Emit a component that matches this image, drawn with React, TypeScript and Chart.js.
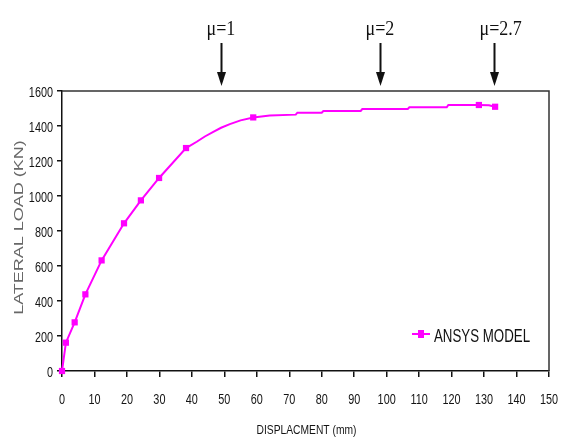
import React, { useEffect, useRef } from "react";
import { Chart, registerables } from "chart.js";

Chart.register(...registerables);

const curveDisplacement = [0, 1.2, 3.9, 7.2, 12.2, 19.1, 24.3, 29.9, 38.2, 41.5, 44, 46.6, 49, 51.7, 55, 58.9, 64, 72, 72.5, 80, 80.5, 92, 92.5, 106.5, 107, 118.5, 119, 128.4, 131.5, 133.4];
const curveLoad = [0, 162, 278, 438, 632, 844, 975, 1103, 1274, 1310, 1340, 1367, 1390, 1411, 1432, 1449, 1460, 1465, 1476, 1476, 1486, 1486, 1497, 1497, 1507, 1507, 1520, 1520, 1518, 1510];

// Marked points of the ANSYS model
const markerDisplacement = [0, 1.2, 3.9, 7.2, 12.2, 19.1, 24.3, 29.9, 38.2, 58.9, 128.4, 133.4];
const markerLoad = [0, 162, 278, 438, 632, 844, 975, 1103, 1274, 1449, 1520, 1510];

// Ductility annotations
const ductilityLabels = ["μ=1", "μ=2", "μ=2.7"];
const ductilityDisplacement = [49, 98, 133];

const seriesName = "ANSYS MODEL";
const xTitle = "DISPLACMENT (mm)";
const yTitle = "LATERAL LOAD (KN)";

const SANS = '"Liberation Sans", Arial, sans-serif';
const MAGENTA = "#ff00ff";
const INK = "#141414";

function condensedText(ctx: any, text: string, x: number, y: number, font: string, sx: number, align: string, color: string) {
  ctx.save();
  ctx.translate(x, y);
  ctx.scale(sx, 1);
  ctx.font = font;
  ctx.fillStyle = color;
  ctx.textAlign = align;
  ctx.textBaseline = "alphabetic";
  ctx.fillText(text, 0, 0);
  ctx.restore();
}

const decorPlugin = {
  id: "decor",
  afterDraw(chart: any) {
    const { ctx, chartArea: a, scales } = chart;
    const xs = scales.x;
    const ys = scales.y;
    ctx.save();
    // frame (top + right)
    ctx.strokeStyle = "#333";
    ctx.lineWidth = 1.5;
    ctx.beginPath();
    ctx.moveTo(a.left, a.top);
    ctx.lineTo(a.right, a.top);
    ctx.lineTo(a.right, a.bottom);
    ctx.stroke();

    // tick labels (condensed, from the library's scales)
    const tickFont = "15.5px " + SANS;
    xs.ticks.forEach((t: any) => {
      condensedText(ctx, String(t.value), xs.getPixelForValue(t.value), a.bottom + 33, tickFont, 0.7, "center", INK);
    });
    ys.ticks.forEach((t: any) => {
      condensedText(ctx, String(t.value), a.left - 9, ys.getPixelForValue(t.value) + 5.5, tickFont, 0.7, "right", INK);
    });

    // x title
    condensedText(ctx, xTitle, (a.left + a.right) / 2 + 1, a.bottom + 63, "13px " + SANS, 0.79, "center", INK);

    // ductility arrows
    ctx.fillStyle = "#111";
    ctx.strokeStyle = "#111";
    ductilityDisplacement.forEach((d, i) => {
      const px = Math.round(xs.getPixelForValue(d)) + 0.5;
      condensedText(ctx, ductilityLabels[i], px - 15, a.top - 56, '20px "Liberation Serif", "Times New Roman", serif', 0.9, "left", "#111");
      ctx.lineWidth = 2;
      ctx.beginPath();
      ctx.moveTo(px, a.top - 48);
      ctx.lineTo(px, a.top - 16);
      ctx.stroke();
      ctx.beginPath();
      ctx.moveTo(px - 4.5, a.top - 19);
      ctx.lineTo(px + 4.5, a.top - 19);
      ctx.lineTo(px, a.top - 5);
      ctx.closePath();
      ctx.fill();
    });

    // y title (condensed)
    ctx.save();
    ctx.translate(19, (a.top + a.bottom) / 2 - 3.5);
    ctx.rotate(-Math.PI / 2);
    ctx.scale(1, 0.75);
    ctx.font = "18px " + SANS;
    ctx.fillStyle = "#686868";
    ctx.textAlign = "center";
    ctx.textBaseline = "middle";
    ctx.fillText(yTitle, 0, 0);
    ctx.restore();

    // legend
    const ly = a.bottom - 37;
    const lx = a.right - 137;
    ctx.strokeStyle = MAGENTA;
    ctx.fillStyle = MAGENTA;
    ctx.lineWidth = 2;
    ctx.beginPath();
    ctx.moveTo(lx, ly);
    ctx.lineTo(lx + 18, ly);
    ctx.stroke();
    ctx.fillRect(lx + 6, ly - 4, 6, 8);
    condensedText(ctx, seriesName, lx + 22, ly + 8, "19px " + SANS, 0.7, "left", "#111");
    ctx.restore();
  },
};

export default function App() {
  const ref = useRef<HTMLCanvasElement | null>(null);
  useEffect(() => {
    if (!ref.current) return;
    const chart = new Chart(ref.current, {
      type: "line",
      data: {
        datasets: [
          {
            label: seriesName,
            data: curveDisplacement.map((x, i) => ({ x, y: curveLoad[i] })),
            borderColor: MAGENTA,
            backgroundColor: MAGENTA,
            borderWidth: 2,
            pointRadius: 0,
            tension: 0,
            clip: false as any,
          },
          {
            label: seriesName + " points",
            data: markerDisplacement.map((x, i) => ({ x, y: markerLoad[i] })),
            showLine: false,
            borderColor: MAGENTA,
            backgroundColor: MAGENTA,
            pointStyle: "rect",
            pointRadius: 4.4,
            pointBorderWidth: 0,
            clip: false as any,
          },
        ],
      },
      options: {
        animation: false,
        responsive: false,
        layout: { padding: { top: 91, right: 12, left: 0, bottom: 0 } },
        plugins: { legend: { display: false }, tooltip: { enabled: false } },
        scales: {
          x: {
            type: "linear",
            min: 0,
            max: 150,
            afterFit: (s: any) => {
              s.height = 66;
            },
            ticks: { stepSize: 10, display: false },
            grid: { drawOnChartArea: false, drawTicks: true, tickLength: 6, color: "#111", lineWidth: 1.5 },
            border: { display: true, color: "#111", width: 1.5 },
          },
          y: {
            type: "linear",
            min: 0,
            max: 1600,
            afterFit: (s: any) => {
              s.width = 62;
            },
            ticks: { stepSize: 200, display: false },
            grid: { drawOnChartArea: false, drawTicks: true, tickLength: 5, color: "#111", lineWidth: 1.5 },
            border: { display: true, color: "#111", width: 1.5 },
          },
        },
      },
      plugins: [decorPlugin],
    } as any);
    return () => chart.destroy();
  }, []);
  return (
    <div style={{ position: "fixed", left: 0, top: 0, width: 561, height: 437, background: "#fff" }}>
      <canvas ref={ref} width={561} height={437} style={{ display: "block" }} />
    </div>
  );
}
